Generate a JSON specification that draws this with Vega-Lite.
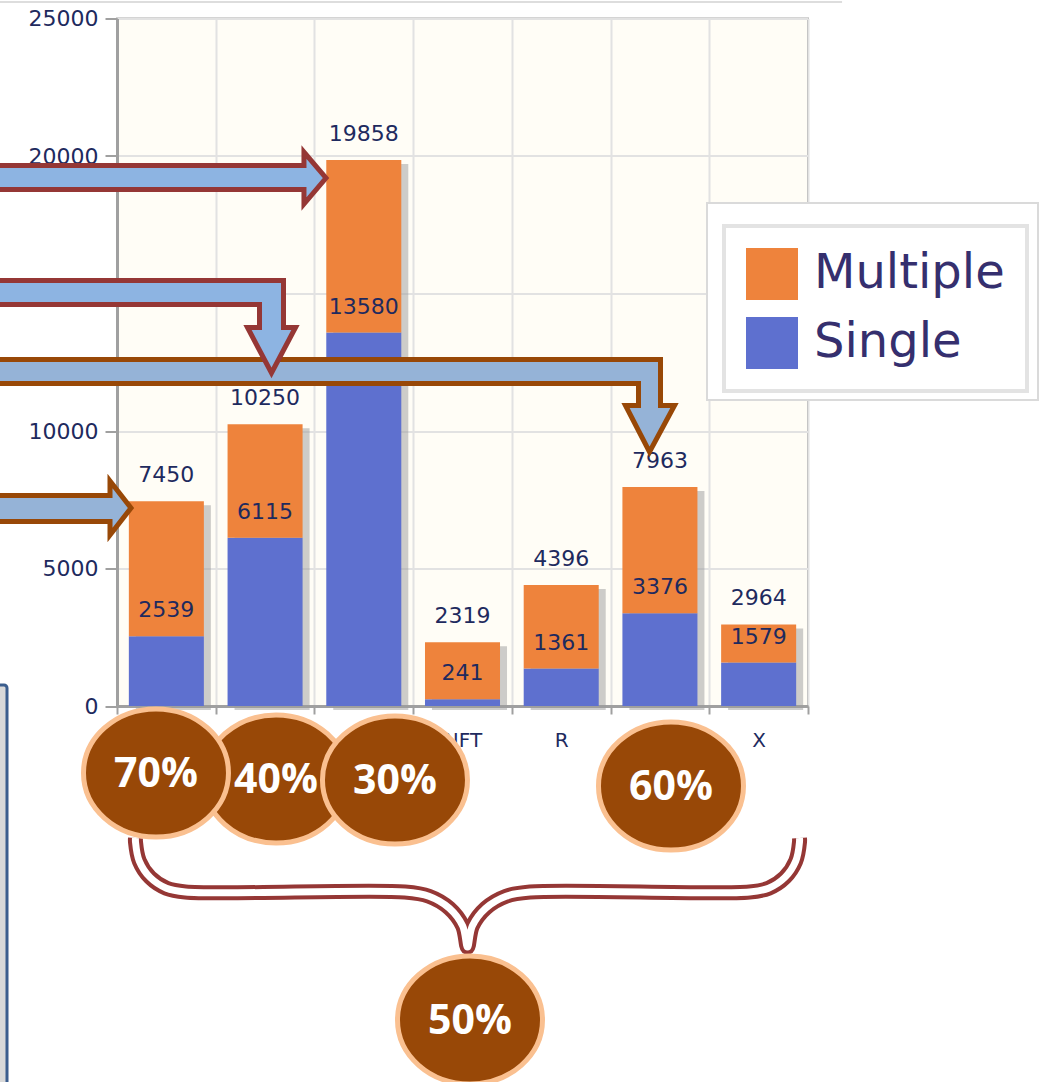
{
  "$schema": "https://vega.github.io/schema/vega-lite/v6.json",
  "width": 691,
  "height": 687.5,
  "autosize": "none",
  "padding": {"left": 117, "top": 18.5, "right": 240, "bottom": 376},
  "background": "#FFFFFF",
  "config": {
    "view": {"fill": "#FFFDF6", "stroke": "#A9A9A9", "strokeWidth": 2},
    "axis": {"domainColor": "#A0A0A0", "domainWidth": 3, "tickColor": "#A0A0A0", "tickWidth": 2, "gridColor": "#E2E2E2", "gridWidth": 2, "labelFont": "DejaVu Sans", "labelFontSize": 22, "labelColor": "#1E2A5E"},
    "legend": {"strokeWidth": 4}
  },
  "datasets": {
    "bars": [
      {"cat": "A", "series": "Single", "value": 2539}, {"cat": "A", "series": "Multiple", "value": 4911},
      {"cat": "B", "series": "Single", "value": 6115}, {"cat": "B", "series": "Multiple", "value": 4135},
      {"cat": "C", "series": "Single", "value": 13580}, {"cat": "C", "series": "Multiple", "value": 6278},
      {"cat": "NFT", "series": "Single", "value": 241}, {"cat": "NFT", "series": "Multiple", "value": 2078},
      {"cat": "R", "series": "Single", "value": 1361}, {"cat": "R", "series": "Multiple", "value": 3035},
      {"cat": "D", "series": "Single", "value": 3376}, {"cat": "D", "series": "Multiple", "value": 4587},
      {"cat": "X", "series": "Single", "value": 1579}, {"cat": "X", "series": "Multiple", "value": 1385}
    ],
    "arrows": [
      {"arrow": "a1", "grp": "red", "i": 0, "u": -1.236, "v": 19654.5},
      {"arrow": "a1", "grp": "red", "i": 1, "u": 1.894, "v": 19654.5},
      {"arrow": "a1", "grp": "red", "i": 2, "u": 1.894, "v": 20145},
      {"arrow": "a1", "grp": "red", "i": 3, "u": 2.117, "v": 19200},
      {"arrow": "a1", "grp": "red", "i": 4, "u": 1.894, "v": 18254.5},
      {"arrow": "a1", "grp": "red", "i": 5, "u": 1.894, "v": 18782},
      {"arrow": "a1", "grp": "red", "i": 6, "u": -1.236, "v": 18782},
      {"arrow": "a1", "grp": "red", "i": 7, "u": -1.236, "v": 19654.5},
      {"arrow": "a2", "grp": "red", "i": 0, "u": -1.236, "v": 15473},
      {"arrow": "a2", "grp": "red", "i": 1, "u": 1.6867, "v": 15473},
      {"arrow": "a2", "grp": "red", "i": 2, "u": 1.6867, "v": 13764},
      {"arrow": "a2", "grp": "red", "i": 3, "u": 1.8083, "v": 13764},
      {"arrow": "a2", "grp": "red", "i": 4, "u": 1.5651, "v": 12109},
      {"arrow": "a2", "grp": "red", "i": 5, "u": 1.322, "v": 13764},
      {"arrow": "a2", "grp": "red", "i": 6, "u": 1.4436, "v": 13764},
      {"arrow": "a2", "grp": "red", "i": 7, "u": 1.4436, "v": 14600},
      {"arrow": "a2", "grp": "red", "i": 8, "u": -1.236, "v": 14600},
      {"arrow": "a2", "grp": "red", "i": 9, "u": -1.236, "v": 15473},
      {"arrow": "a3", "grp": "brown", "i": 0, "u": -1.236, "v": 12600},
      {"arrow": "a3", "grp": "brown", "i": 1, "u": 5.5058, "v": 12600},
      {"arrow": "a3", "grp": "brown", "i": 2, "u": 5.5058, "v": 10927},
      {"arrow": "a3", "grp": "brown", "i": 3, "u": 5.6476, "v": 10927},
      {"arrow": "a3", "grp": "brown", "i": 4, "u": 5.3944, "v": 9236},
      {"arrow": "a3", "grp": "brown", "i": 5, "u": 5.1512, "v": 10927},
      {"arrow": "a3", "grp": "brown", "i": 6, "u": 5.2829, "v": 10927},
      {"arrow": "a3", "grp": "brown", "i": 7, "u": 5.2829, "v": 11727},
      {"arrow": "a3", "grp": "brown", "i": 8, "u": -1.236, "v": 11727},
      {"arrow": "a3", "grp": "brown", "i": 9, "u": -1.236, "v": 12600},
      {"arrow": "a4", "grp": "brown", "i": 0, "u": -1.236, "v": 7654.5},
      {"arrow": "a4", "grp": "brown", "i": 1, "u": -0.0709, "v": 7654.5},
      {"arrow": "a4", "grp": "brown", "i": 2, "u": -0.0709, "v": 8182},
      {"arrow": "a4", "grp": "brown", "i": 3, "u": 0.1418, "v": 7200},
      {"arrow": "a4", "grp": "brown", "i": 4, "u": -0.0709, "v": 6218},
      {"arrow": "a4", "grp": "brown", "i": 5, "u": -0.0709, "v": 6709},
      {"arrow": "a4", "grp": "brown", "i": 6, "u": -1.236, "v": 6709},
      {"arrow": "a4", "grp": "brown", "i": 7, "u": -1.236, "v": 7654.5}
    ],
    "brace": [
      {"i": 1, "u": 0.1874, "v": -4800},
      {"i": 2, "u": 0.1874, "v": -4945.5},
      {"i": 3, "u": 0.2259, "v": -5640},
      {"i": 4, "u": 0.3353, "v": -6232.7},
      {"i": 5, "u": 0.5004, "v": -6625.5},
      {"i": 6, "u": 0.6939, "v": -6763.6},
      {"i": 7, "u": 2.9175, "v": -6763.6},
      {"i": 8, "u": 3.1596, "v": -6916.4},
      {"i": 9, "u": 3.3653, "v": -7349.1},
      {"i": 10, "u": 3.502, "v": -8000},
      {"i": 11, "u": 3.5507, "v": -8763.6},
      {"i": 12, "u": 3.5994, "v": -8000},
      {"i": 13, "u": 3.7361, "v": -7349.1},
      {"i": 14, "u": 3.9417, "v": -6916.4},
      {"i": 15, "u": 4.1838, "v": -6763.6},
      {"i": 16, "u": 6.4074, "v": -6763.6},
      {"i": 17, "u": 6.6009, "v": -6625.5},
      {"i": 18, "u": 6.766, "v": -6232.7},
      {"i": 19, "u": 6.8754, "v": -5640},
      {"i": 20, "u": 6.9139, "v": -4945.5},
      {"i": 21, "u": 6.9139, "v": -4800}
    ],
    "ellipses": [
      {"lab": "40%", "u": 1.611, "v": -2655},
      {"lab": "70%", "u": 0.395, "v": -2436},
      {"lab": "30%", "u": 2.816, "v": -2691},
      {"lab": "60%", "u": 5.612, "v": -2909},
      {"lab": "50%", "u": 3.576, "v": -11418}
    ]
  },
  "layer": [
    {
      "data": {"name": "bars"},
      "encoding": {
        "x": {
          "field": "cat", "type": "nominal", "sort": ["A", "B", "C", "NFT", "R", "D", "X"], "title": null,
          "scale": {"paddingInner": 0, "paddingOuter": 0},
          "axis": {"labelAngle": 0, "tickBand": "extent", "grid": true, "tickSize": 8, "labelPadding": 16, "labelFontSize": 20,
            "labelExpr": "indexof(['NFT', 'R', 'X'], datum.value) >= 0 ? datum.value : ''"}
        }
      },
      "layer": [
        {
          "transform": [{"aggregate": [{"op": "sum", "field": "value", "as": "total"}], "groupby": ["cat"]}],
          "mark": {"type": "bar", "color": "#9C9C9C", "opacity": 0.5, "xOffset": 7, "yOffset": 4, "width": {"band": 0.76}},
          "encoding": {
            "y": {"field": "total", "type": "quantitative", "title": null,
              "scale": {"domain": [0, 25000], "nice": false, "zero": true},
              "axis": {"values": [0, 5000, 10000, 15000, 20000, 25000], "format": "d", "grid": true, "tickSize": 12, "labelPadding": 7, "title": null}}
          }
        },
        {
          "mark": {"type": "bar", "width": {"band": 0.76}},
          "encoding": {
            "y": {"field": "value", "type": "quantitative", "stack": "zero", "title": null},
            "color": {"field": "series", "type": "nominal",
              "scale": {"domain": ["Multiple", "Single"], "range": ["#EE833C", "#5E70CF"]},
              "legend": {"orient": "none", "legendX": 607, "legendY": 207.5, "title": null, "symbolType": "square", "symbolSize": 2704, "symbolStrokeWidth": 0, "symbolOpacity": 1, "labelFontSize": 48, "labelFont": "DejaVu Sans", "labelColor": "#352F6E", "labelOffset": 16, "labelLimit": 500, "padding": 22, "rowPadding": 17, "strokeColor": "#E3E3E3", "fillColor": "#FFFFFF", "zindex": 1}},
            "order": {"field": "series", "sort": "descending"}
          }
        },
        {
          "transform": [{"filter": "datum.series === 'Single'"}],
          "mark": {"type": "text", "dy": -19, "baseline": "alphabetic", "font": "DejaVu Sans", "fontSize": 22, "color": "#1E2A5E"},
          "encoding": {
            "y": {"field": "value", "type": "quantitative", "title": null},
            "text": {"field": "value", "type": "quantitative", "format": "d"}
          }
        },
        {
          "transform": [{"aggregate": [{"op": "sum", "field": "value", "as": "total"}], "groupby": ["cat"]}],
          "mark": {"type": "text", "dy": -19, "baseline": "alphabetic", "font": "DejaVu Sans", "fontSize": 22, "color": "#1E2A5E"},
          "encoding": {
            "y": {"field": "total", "type": "quantitative", "title": null},
            "text": {"field": "total", "type": "quantitative", "format": "d"}
          }
        }
      ]
    },
    {
      "layer": [
        {
          "data": {"values": [{"u1": -1.4, "u2": -1.1143, "v1": 763.6, "v2": -14500}]},
          "mark": {"type": "rect", "fill": "#D9D9D9", "stroke": "#3C5E8E", "strokeWidth": 3, "cornerRadius": 3},
          "encoding": {
            "x": {"field": "u1", "type": "quantitative", "scale": {"domain": [0, 7], "nice": false, "zero": false}, "axis": null},
            "x2": {"field": "u2"},
            "y": {"field": "v1", "type": "quantitative", "scale": {"domain": [0, 25000], "nice": false, "zero": false}, "axis": null},
            "y2": {"field": "v2"}
          }
        },
        {
          "data": {"values": [{"u1": -1.25, "u2": 7.345, "v": 25600}]},
          "mark": {"type": "rule", "color": "#DDDDDD", "strokeWidth": 2},
          "encoding": {
            "x": {"field": "u1", "type": "quantitative", "axis": null},
            "x2": {"field": "u2"},
            "y": {"field": "v", "type": "quantitative", "axis": null}
          }
        },
        {
          "data": {"values": [{"u1": 5.977, "u2": 9.33, "v1": 18291, "v2": 11127}]},
          "mark": {"type": "rect", "fill": "#FFFFFF", "stroke": "#DADADA", "strokeWidth": 2},
          "encoding": {
            "x": {"field": "u1", "type": "quantitative", "axis": null},
            "x2": {"field": "u2"},
            "y": {"field": "v1", "type": "quantitative", "axis": null},
            "y2": {"field": "v2"}
          }
        },
        {
          "data": {"name": "arrows"},
          "transform": [{"filter": "datum.grp === 'brown'"}],
          "mark": {"type": "line", "fill": "#95B3D7", "stroke": "#984807", "strokeWidth": 5, "strokeJoin": "miter", "strokeMiterLimit": 10},
          "encoding": {
            "x": {"field": "u", "type": "quantitative", "axis": null},
            "y": {"field": "v", "type": "quantitative", "axis": null},
            "detail": {"field": "arrow"},
            "order": {"field": "i", "type": "quantitative"}
          }
        },
        {
          "data": {"name": "arrows"},
          "transform": [{"filter": "datum.grp === 'red'"}],
          "mark": {"type": "line", "fill": "#8DB4E2", "stroke": "#953735", "strokeWidth": 5, "strokeJoin": "miter", "strokeMiterLimit": 10},
          "encoding": {
            "x": {"field": "u", "type": "quantitative", "axis": null},
            "y": {"field": "v", "type": "quantitative", "axis": null},
            "detail": {"field": "arrow"},
            "order": {"field": "i", "type": "quantitative"}
          }
        },
        {
          "data": {"name": "brace"},
          "mark": {"type": "line", "stroke": "#953735", "strokeWidth": 15, "interpolate": "catmull-rom", "strokeJoin": "round", "strokeCap": "butt"},
          "encoding": {
            "x": {"field": "u", "type": "quantitative", "axis": null},
            "y": {"field": "v", "type": "quantitative", "axis": null},
            "order": {"field": "i", "type": "quantitative"}
          }
        },
        {
          "data": {"name": "brace"},
          "mark": {"type": "line", "stroke": "#FFFFFF", "strokeWidth": 7, "interpolate": "catmull-rom", "strokeJoin": "round", "strokeCap": "butt"},
          "encoding": {
            "x": {"field": "u", "type": "quantitative", "axis": null},
            "y": {"field": "v", "type": "quantitative", "axis": null},
            "order": {"field": "i", "type": "quantitative"}
          }
        },
        {
          "data": {"name": "ellipses"},
          "mark": {"type": "point", "filled": true, "fill": "#984807", "stroke": "#FAC090", "strokeWidth": 5, "opacity": 1, "fillOpacity": 1, "strokeOpacity": 1, "size": 21025,
            "shape": "M-1,0C-1,-0.4877,-0.5523,-0.883,0,-0.883C0.5523,-0.883,1,-0.4877,1,0C1,0.4877,0.5523,0.883,0,0.883C-0.5523,0.883,-1,0.4877,-1,0Z"},
          "encoding": {
            "x": {"field": "u", "type": "quantitative", "axis": null},
            "y": {"field": "v", "type": "quantitative", "axis": null}
          }
        },
        {
          "data": {"name": "ellipses"},
          "mark": {"type": "text", "color": "#FFFFFF", "font": "Open Sans", "fontWeight": "bold", "fontSize": 41, "baseline": "middle", "align": "center", "dy": 2},
          "encoding": {
            "x": {"field": "u", "type": "quantitative", "axis": null},
            "y": {"field": "v", "type": "quantitative", "axis": null},
            "text": {"field": "lab", "type": "nominal"}
          }
        }
      ]
    }
  ],
  "resolve": {"scale": {"x": "independent", "y": "independent"}}
}
